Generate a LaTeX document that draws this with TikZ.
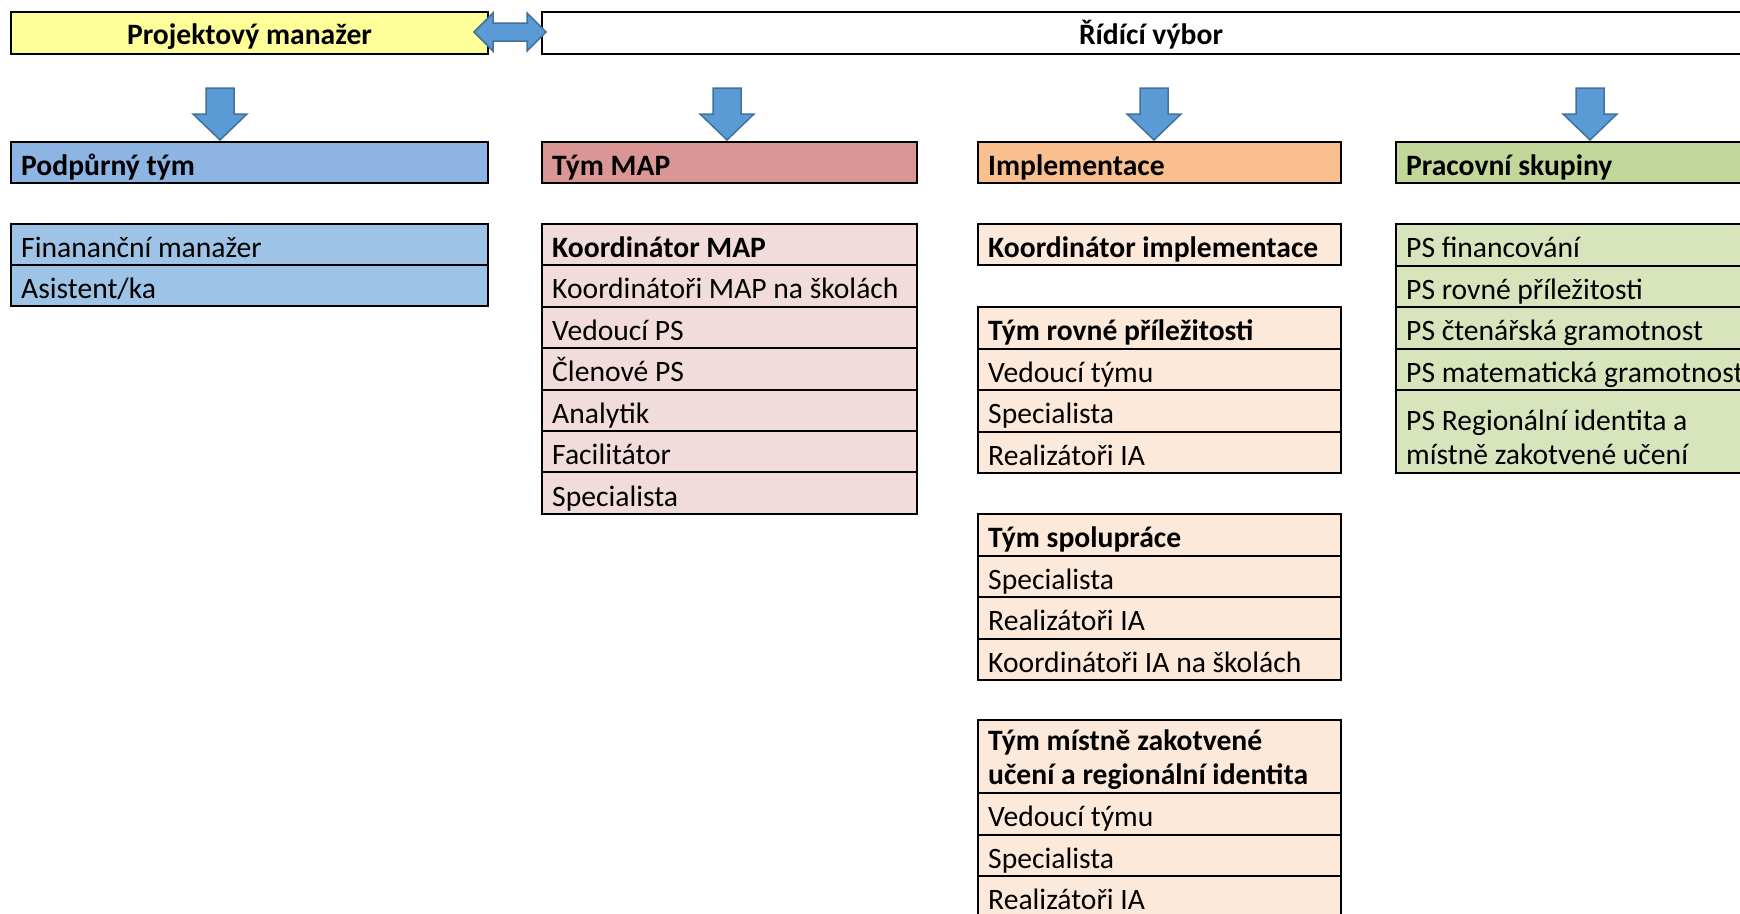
\documentclass[tikz,border=0pt]{standalone}
\usepackage{fontspec}
\setmainfont{Carlito}
\usetikzlibrary{calc}
\definecolor{pmyellow}{HTML}{FFFF99}
\definecolor{podhead}{HTML}{8DB4E2}
\definecolor{poditem}{HTML}{9DC3E6}
\definecolor{maphead}{HTML}{DA9694}
\definecolor{mapitem}{HTML}{F2DCDB}
\definecolor{imphead}{HTML}{FABF8F}
\definecolor{impitem}{HTML}{FDE9D9}
\definecolor{pshead}{HTML}{C4D79B}
\definecolor{psitem}{HTML}{D8E4BC}
\definecolor{arrowblue}{HTML}{5B9BD5}
\definecolor{arrowedge}{HTML}{41719C}
\tikzset{
  cellbox/.style={draw=black, line width=2pt, rectangle, inner sep=0pt, outer sep=0pt, anchor=north west},
  topbox/.style={cellbox, line width=2.6pt},
  celltext/.style={inner sep=0pt, anchor=base west, font=\fontsize{29.6}{35}\selectfont},
  headtext/.style={celltext, font=\fontsize{29.6}{35}\selectfont\bfseries},
  blockarrow/.style={fill=arrowblue, draw=arrowedge, line width=1.5pt, line join=miter},
}
% name, x, y, w, h, fill, text style, text
\newcommand\orgcell[8]{%
  \node[cellbox, fill=#6, minimum width=#4pt, minimum height=#5pt] (#1) at (#2,-#3) {};
  \node[#7] (#1-t) at ($(#1.south west)+(10,8)$) {#8};
}
% name, x, y, w, h, fill, style, line1, line2
\newcommand\orgcelltwo[9]{%
  \node[cellbox, fill=#6, minimum width=#4pt, minimum height=#5pt] (#1) at (#2,-#3) {};
  \node[#7] (#1-t) at ($(#1.south west)+(10,43)$) {#8};
  \node[#7] (#1-u) at ($(#1.south west)+(10,9)$) {#9};
}
% tip x, tip y
\newcommand\blockdown[2]{%
  \coordinate (tip#1) at (#1,-#2);
  \draw[blockarrow] (tip#1) -- ++(-27,26) -- ++(13,0) -- ++(0,26) -- ++(28,0) -- ++(0,-26) -- ++(13,0) -- cycle;
}
\begin{document}
\begin{tikzpicture}[x=1pt,y=1pt]
\useasboundingbox (0,0) rectangle (1740,-913);
\clip (0,0) rectangle (1740,-913);
\fill[white] (0,0) rectangle (1740,-913);

% top row
\node[topbox, fill=pmyellow, minimum width=477pt, minimum height=42pt] (pm) at (11,-12) {};
\node[headtext, anchor=base] (pm-t) at ($(pm.south)+(0,10)$) {Projektový manažer};
\node[topbox, fill=white, minimum width=1230pt, minimum height=42pt] (rv) at (542,-12) {};
\node[headtext, anchor=base] (rv-t) at (1151,-44) {Řídící výbor};

% double arrow between PM and committee
\coordinate (dl) at (474,-32);
\coordinate (dr) at (546,-32);
\draw[blockarrow] (dl) -- ++(19,19) -- ++(0,-10) -- ++(34,0) -- ++(0,10) -- (dr) -- ++(-19,-19) -- ++(0,10) -- ++(-34,0) -- ++(0,-10) -- cycle;

% down arrows
\blockdown{220}{140}
\blockdown{727}{140}
\blockdown{1154}{140}
\blockdown{1590}{140}

% column 1
\orgcell{pod}{11}{142}{477}{41}{podhead}{headtext}{Podpůrný tým}
\orgcell{fin}{11}{224}{477}{41}{poditem}{celltext}{Finananční manažer}
\orgcell{asi}{11}{265}{477}{41}{poditem}{celltext}{Asistent/ka}

% column 2
\orgcell{map}{542}{142}{375}{41}{maphead}{headtext}{Tým MAP}
\orgcell{kmap}{542}{224}{375}{41.4}{mapitem}{headtext}{Koordinátor MAP}
\orgcell{kmaps}{542}{265.4}{375}{41.4}{mapitem}{celltext}{Koordinátoři MAP na školách}
\orgcell{vps}{542}{306.8}{375}{41.4}{mapitem}{celltext}{Vedoucí PS}
\orgcell{cps}{542}{348.2}{375}{41.4}{mapitem}{celltext}{Členové PS}
\orgcell{ana}{542}{389.6}{375}{41.4}{mapitem}{celltext}{Analytik}
\orgcell{fac}{542}{431}{375}{41.4}{mapitem}{celltext}{Facilitátor}
\orgcell{spm}{542}{472.4}{375}{41.6}{mapitem}{celltext}{Specialista}

% column 3
\orgcell{imp}{978}{142}{363}{41}{imphead}{headtext}{Implementace}
\orgcell{kimp}{978}{224}{363}{41}{impitem}{headtext}{Koordinátor implementace}
\orgcell{trp}{978}{307}{363}{41.5}{impitem}{headtext}{Tým rovné příležitosti}
\orgcell{trpa}{978}{348.5}{363}{41.5}{impitem}{celltext}{Vedoucí týmu}
\orgcell{trpb}{978}{390}{363}{41.5}{impitem}{celltext}{Specialista}
\orgcell{trpc}{978}{431.5}{363}{41.5}{impitem}{celltext}{Realizátoři IA}
\orgcell{tsp}{978}{514}{363}{41.5}{impitem}{headtext}{Tým spolupráce}
\orgcell{tspa}{978}{555.5}{363}{41.5}{impitem}{celltext}{Specialista}
\orgcell{tspb}{978}{597}{363}{41.5}{impitem}{celltext}{Realizátoři IA}
\orgcell{tspc}{978}{638.5}{363}{41.5}{impitem}{celltext}{Koordinátoři IA na školách}
\orgcelltwo{tmz}{978}{720}{363}{73}{impitem}{headtext}{Tým místně zakotvené}{učení a regionální identita}
\orgcell{tmza}{978}{793}{363}{41.5}{impitem}{celltext}{Vedoucí týmu}
\orgcell{tmzb}{978}{834.5}{363}{41.5}{impitem}{celltext}{Specialista}
\orgcell{tmzc}{978}{876}{363}{41.5}{impitem}{celltext}{Realizátoři IA}

% column 4
\orgcell{ps}{1396}{142}{380}{41}{pshead}{headtext}{Pracovní skupiny}
\orgcell{psf}{1396}{224}{380}{41.5}{psitem}{celltext}{PS financování}
\orgcell{psr}{1396}{265.5}{380}{41.5}{psitem}{celltext}{PS rovné příležitosti}
\orgcell{psc}{1396}{307}{380}{41.5}{psitem}{celltext}{PS čtenářská gramotnost}
\orgcell{psm}{1396}{348.5}{380}{41.5}{psitem}{celltext}{PS matematická gramotnost}
\orgcelltwo{psg}{1396}{390}{380}{83}{psitem}{celltext}{PS Regionální identita a}{místně zakotvené učení}
\end{tikzpicture}
\end{document}
